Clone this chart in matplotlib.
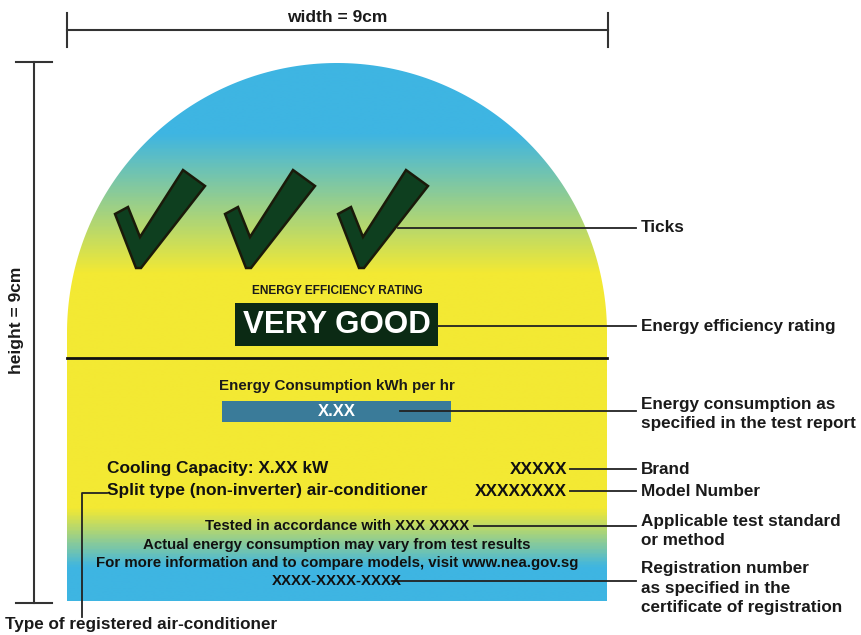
import numpy as np
import matplotlib
matplotlib.use("Agg")
import matplotlib.pyplot as plt
from matplotlib.path import Path
from matplotlib.patches import PathPatch, Polygon, Rectangle
from matplotlib.colors import LinearSegmentedColormap

plt.rcParams['font.family'] = ['Liberation Sans', 'DejaVu Sans']
plt.rcParams['font.weight'] = 'bold'

# label content
rating_heading = "ENERGY EFFICIENCY RATING"
rating_text = "VERY GOOD"
n_ticks = 3
consumption_heading = "Energy Consumption kWh per hr"
consumption_value = "X.XX"
capacity_line = "Cooling Capacity: X.XX kW"
type_line = "Split type (non-inverter) air-conditioner"
brand = "XXXXX"
model = "XXXXXXXX"
footer_lines = ["Tested in accordance with XXX XXXX",
                "Actual energy consumption may vary from test results",
                "For more information and to compare models, visit www.nea.gov.sg",
                "XXXX-XXXX-XXXX"]

# callouts on the right: (label, y of leader)
callout_labels = ["Ticks", "Energy efficiency rating",
                  "Energy consumption as\nspecified in the test report",
                  "Brand", "Model Number",
                  "Applicable test standard\nor method",
                  "Registration number\nas specified in the\ncertificate of registration"]
callout_y = [228, 326, 411, 469, 491, 526, 581]
callout_text_y = [228, 326, 414, 469, 491, 531, 588]
callout_start_x = [398, 438, 400, 570, 570, 474, 392]

fig = plt.figure(figsize=(8.61, 6.35), dpi=100)
ax = fig.add_axes([0, 0, 1, 1])
ax.set_xlim(0, 861)
ax.set_ylim(635, 0)
ax.axis('off')

# label outline: arch on top of a rectangle
left, right, bottom = 67, 607, 601
cx = (left + right) / 2
r = (right - left) / 2
cy = 333
theta = np.linspace(np.pi, 0, 200)
arc_x = cx + r * np.cos(theta)
arc_y = cy - r * np.sin(theta)
verts = [(left, bottom)] + list(zip(arc_x, arc_y)) + [(right, bottom), (left, bottom)]
codes = [Path.MOVETO] + [Path.LINETO] * (len(verts) - 2) + [Path.CLOSEPOLY]
outline = PathPatch(Path(verts, codes), facecolor='none', edgecolor='none')
ax.add_patch(outline)

blue = '#3eb5e2'
yellow = '#f3e933'
cmap = LinearSegmentedColormap.from_list('label', [
    (0.0, blue), (0.13, blue), (0.39, yellow), (0.83, yellow), (0.94, blue), (1.0, blue)])
grad = np.linspace(0, 1, 400).reshape(-1, 1)
im = ax.imshow(grad, cmap=cmap, extent=[left, right, bottom, cy - r],
               aspect='auto', interpolation='bilinear')
im.set_clip_path(outline)

# divider
ax.plot([left, right], [358, 358], color='#111111', lw=2)

# check marks
tick_shape = np.array([(0, 44), (13, 37), (25, 67), (68, 0), (90, 16), (26, 98), (21, 98)])
for x0 in [115, 225, 338][:n_ticks]:
    ax.add_patch(Polygon(tick_shape + [x0, 170], closed=True,
                         facecolor='#0e3f1f', edgecolor='#1a1a0a', lw=1.8, joinstyle='miter'))

# rating
ax.text(cx, 291, rating_heading, ha='center', va='center', fontsize=8.6,
        color='#1a1a1a')
ax.add_patch(Rectangle((235, 303), 203, 43, facecolor='#0b2a14', edgecolor='none'))
ax.text(336.5, 325, rating_text, ha='center', va='center', fontsize=22.5,
        color='white')

# consumption
ax.text(cx, 386, consumption_heading, ha='center', va='center', fontsize=10.9,
        color='#1a1a1a')
ax.add_patch(Rectangle((222, 401), 229, 21, facecolor='#3a7b99', edgecolor='none'))
ax.text(cx, 411.5, consumption_value, ha='center', va='center', fontsize=12,
        color='white')

# capacity, type, brand, model
ax.text(107, 469, capacity_line, ha='left', va='center', fontsize=12.4, color='#111111')
ax.text(107, 491, type_line, ha='left', va='center', fontsize=12.4, color='#111111')
ax.text(567, 469, brand, ha='right', va='center', fontsize=12.4, color='#111111')
ax.text(567, 491, model, ha='right', va='center', fontsize=12.4, color='#111111')

# footer
for txt, y in zip(footer_lines, [526, 545, 563, 581]):
    ax.text(cx, y, txt, ha='center', va='center', fontsize=10.8, color='#111111')

# right-hand callouts
for lab, y, ty, x0 in zip(callout_labels, callout_y, callout_text_y, callout_start_x):
    ax.plot([x0, 636], [y, y], color='#222222', lw=1.3)
    ax.text(641, ty, lab, ha='left', va='center', fontsize=12.3, color='#1a1a1a',
            linespacing=1.35)

# type-of-air-conditioner callout
ax.plot([107, 82, 82], [493, 493, 617], color='#222222', lw=1.3)
ax.text(5, 624, "Type of registered air-conditioner", ha='left', va='center',
        fontsize=12.3, color='#1a1a1a')

# dimension lines
ax.plot([67, 608], [30, 30], color='#333333', lw=1.5)
ax.plot([67, 67], [13, 47], color='#333333', lw=1.5)
ax.plot([608, 608], [13, 47], color='#333333', lw=1.5)
ax.text(cx, 17, "width = 9cm", ha='center', va='center', fontsize=12.5, color='#1a1a1a')

ax.plot([34, 34], [62, 603], color='#333333', lw=1.5)
ax.plot([16, 52], [62, 62], color='#333333', lw=1.5)
ax.plot([16, 52], [603, 603], color='#333333', lw=1.5)
ax.text(17, 320, "height = 9cm", ha='center', va='center', rotation=90,
        fontsize=12.5, color='#1a1a1a')

fig.savefig('out.png', dpi=100)
